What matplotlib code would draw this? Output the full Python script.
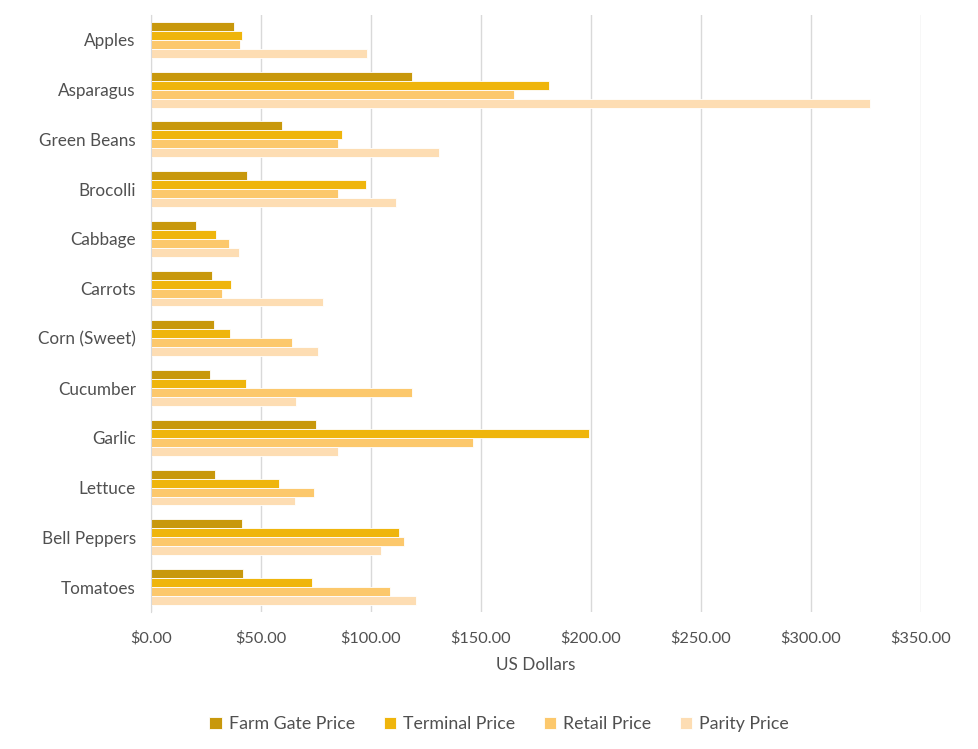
import numpy as np
import matplotlib.pyplot as plt
from matplotlib.ticker import FuncFormatter

categories = ["Apples", "Asparagus", "Green Beans", "Brocolli", "Cabbage", "Carrots",
              "Corn (Sweet)", "Cucumber", "Garlic", "Lettuce", "Bell Peppers", "Tomatoes"]
farm_gate = [37.5, 118.7, 59.3, 43.4, 20.5, 27.7, 28.6, 26.7, 75.2, 29.2, 41.3, 41.7]
terminal = [41.3, 180.7, 86.6, 97.5, 29.5, 36.3, 35.7, 43.1, 198.9, 58.0, 112.5, 73.0]
retail = [40.5, 164.9, 84.8, 84.8, 35.4, 32.2, 64.0, 118.7, 146.4, 74.2, 114.8, 108.6]
parity = [98.3, 326.6, 131.0, 111.4, 40.1, 78.1, 75.7, 66.0, 85.2, 65.5, 104.6, 120.4]

series = [("Farm Gate Price", farm_gate, "#C8980C"),
          ("Terminal Price", terminal, "#EFB50C"),
          ("Retail Price", retail, "#FCC86C"),
          ("Parity Price", parity, "#FDDDB3")]

plt.rcParams["font.family"] = ["Lato", "DejaVu Sans"]
text_color = "#505050"

fig = plt.figure(figsize=(9.79, 7.49), dpi=100)
ax = fig.add_axes([0.1543, 0.183, 0.7865, 0.797])

y = np.arange(len(categories))
bar_h = 0.18
for i, (name, vals, color) in enumerate(series):
    offset = (i - 1.5) * bar_h
    ax.barh(y + offset, vals, height=bar_h, color=color, label=name,
            edgecolor="white", linewidth=0.6)

ax.set_ylim(len(categories) - 0.5, -0.5)
ax.set_xlim(0, 350)
ax.set_xticks(np.arange(0, 351, 50))
ax.xaxis.set_major_formatter(FuncFormatter(lambda v, p: f"${v:,.2f}"))
ax.set_yticks(y)
ax.set_yticklabels(categories)

ax.grid(axis="x", color="#D9D9D9", linewidth=1)
ax.set_axisbelow(True)
for s in ["top", "right", "bottom"]:
    ax.spines[s].set_visible(False)
ax.spines["left"].set_color("#D9D9D9")
ax.tick_params(axis="both", length=0, labelcolor=text_color)
ax.tick_params(axis="x", pad=14, labelsize=11.7)
ax.tick_params(axis="y", pad=11, labelsize=12.3)
ax.set_xlabel("US Dollars", fontsize=12.3, color=text_color, labelpad=8)

fig.legend(loc="center", bbox_to_anchor=(0.51, 0.033), ncol=4, frameon=False,
           fontsize=12.8, handlelength=0.7, handleheight=0.7, columnspacing=1.6,
           handletextpad=0.4, labelcolor=text_color)

fig.savefig("out.png", dpi=100)
